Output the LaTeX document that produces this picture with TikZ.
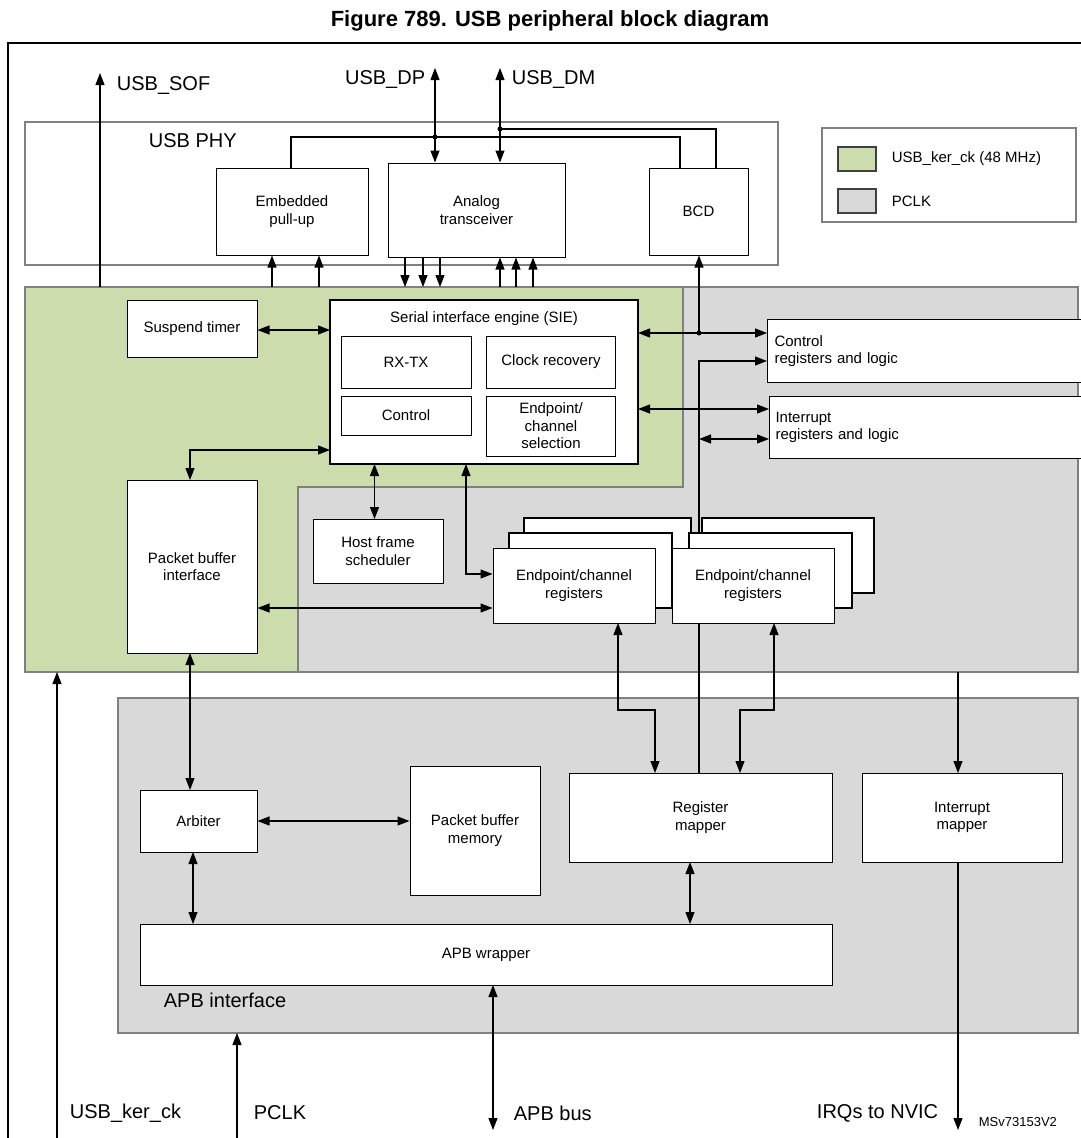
\documentclass[tikz,border=0pt]{standalone}
\usepackage{fontspec}
\setmainfont{Liberation Sans}
\usetikzlibrary{arrows.meta}
\definecolor{kgreen}{RGB}{204,220,172}
\definecolor{pgray}{RGB}{217,217,217}
\begin{document}
\begin{tikzpicture}[x=1pt,y=-1pt,
  ar/.style={-{Triangle[length=12pt,width=9pt]}},
  dar/.style={{Triangle[length=12pt,width=9pt]}-{Triangle[length=12pt,width=9pt]}},
  box/.style={draw,fill=white,line width=1pt},
  bt/.style={font=\fontsize{15}{17.5}\selectfont,align=center},
  big/.style={font=\fontsize{20}{22}\selectfont}]
\useasboundingbox (0,0) rectangle (1081,1138);
\tikzset{every path/.append style={line width=1.1pt}}
% title and frame
\node[font=\bfseries\fontsize{22}{24}\selectfont] (title) at (550,21) {Figure 789. USB peripheral block diagram};
\draw[line width=1.5pt] (1081,43) -- (8,43) -- (8,1138);
% regions
\fill[kgreen,draw=gray] (25,287) -- (683,287) -- (683,487) -- (298,487) -- (298,672) -- (25,672) -- cycle;
\fill[pgray,draw=gray] (683,287) -- (1078,287) -- (1078,672) -- (298,672) -- (298,487) -- (683,487) -- cycle;
\fill[pgray,draw=gray] (118,698) rectangle (1078,1033);
\node[big,anchor=west] (apbi) at (160,1000) {APB interface};
% PHY
\draw[gray,fill=white] (25,122) rectangle (778,265);
\node[big,anchor=west] (phy) at (145,141) {USB PHY};
\coordinate (dpj) at (435,137);
\coordinate (dmj) at (500,129);
\draw (291,168) -- (291,137) -- (680,137) -- (680,168);
\draw (dmj) -- (716,129) -- (716,168);
\node[box,minimum width=152,minimum height=87,bt] (pu) at (292,211.5) {Embedded\\pull-up};
\node[box,minimum width=177,minimum height=94,bt] (at) at (476.5,210) {Analog\\transceiver};
\node[box,minimum width=99,minimum height=87,bt] (bcd) at (698.5,211.5) {BCD};
\fill (dpj) circle (2.5);
\fill (dmj) circle (2.5);
\coordinate (dpt) at (435,68);
\coordinate (dmt) at (500,68);
\draw[dar] (dpt) -- (at.north -| dpt);
\draw[dar] (dmt) -- (at.north -| dmt);
\node[big,anchor=east] (ldp) at (429,80) {USB\_DP};
\node[big,anchor=west] (ldm) at (508,80) {USB\_DM};
\coordinate (soft) at (100,73);
\draw[ar] (100,287) -- (soft);
\node[big,anchor=west] (lsof) at (113,86) {USB\_SOF};
\foreach \x in {272,319} \draw[ar] (\x,287) -- (pu.south -| \x,0);
\foreach \x in {405,423,440} \draw[ar] (at.south -| \x,0) -- (\x,287);
\foreach \x in {500,516,533} \draw[ar] (\x,287) -- (at.south -| \x,0);
% legend
\draw[gray,fill=white] (822,128) rectangle (1076,222);
\draw[fill=kgreen,draw=darkgray] (838,147) rectangle (876,171);
\draw[fill=pgray,draw=darkgray] (838,189) rectangle (876,213);
\node[bt,anchor=west] (lg1) at (888,159) {USB\_ker\_ck (48 MHz)};
\node[bt,anchor=west] (lg2) at (888,201) {PCLK};
% SIE
\node[box,minimum width=130,minimum height=57,bt] (st) at (192,328.5) {Suspend timer};
\draw[fill=white,line width=2pt] (330,300) rectangle (638,464);
\node[bt] (siet) at (484,319) {Serial interface engine (SIE)};
\node[box,minimum width=130,minimum height=52,bt] (rx) at (406,362) {RX-TX};
\node[box,minimum width=129,minimum height=52,bt] (cr) at (551,362) {Clock recovery};
\node[box,minimum width=130,minimum height=39,bt] (ctl) at (406,415.5) {Control};
\node[box,minimum width=129,minimum height=60,bt,inner sep=1pt] (eps) at (551,426) {Endpoint/\\channel\\selection};
\draw[dar] (st.east |- 0,330) -- (330,330);
% right registers
\node[box,minimum width=314,minimum height=63,bt,anchor=north west,text width=300,align=left] (creg) at (767,319) {Control\\registers and logic};
\node[box,minimum width=312,minimum height=62,bt,anchor=north west,text width=300,align=left] (ireg) at (769,396) {Interrupt\\registers and logic};
\coordinate (jc) at (699,333);
\draw[dar] (638,333) -- (767,333);
\fill (jc) circle (2.5);
\draw[ar] (jc) -- (bcd.south -| jc);
\draw[dar] (638,409) -- (769,409);
\draw[dar] (699,439) -- (769,439);
\draw[ar] (699,773) -- (699,361) -- (767,361);
% endpoint stacks
\draw[fill=white] (524,518) rectangle (691,593);
\draw[fill=white] (509,533) rectangle (672,608);
\draw[fill=white] (702,518) rectangle (874,593);
\draw[fill=white] (689,533) rectangle (852,608);
\node[box,minimum width=162,minimum height=75,bt] (ep1) at (574,585.5) {Endpoint/channel\\registers};
\node[box,minimum width=162,minimum height=75,bt] (ep2) at (753,585.5) {Endpoint/channel\\registers};
% host frame scheduler
\node[box,minimum width=130,minimum height=64,bt,inner sep=1pt] (hfs) at (378,551) {Host frame\\scheduler};
\draw[dar] (374.5,464) -- (374.5,519);
\draw[dar] (466,464) -- (466,574) -- (ep1.west |- 0,574);
% packet buffer interface
\node[box,minimum width=130,minimum height=173,bt] (pbi) at (192,566.5) {Packet buffer\\interface};
\draw[dar] (190,480) -- (190,450) -- (330,450);
\draw[dar] (pbi.east |- 0,608) -- (ep1.west |- 0,608);
% APB
\node[box,minimum width=117,minimum height=62,bt] (arb) at (198.5,821) {Arbiter};
\node[box,minimum width=130,minimum height=129,bt] (pbm) at (475,830.5) {Packet buffer\\memory};
\node[box,minimum width=263,minimum height=89,bt] (rm) at (700.5,817.5) {Register\\mapper};
\node[box,minimum width=200,minimum height=89,bt] (im) at (962,817.5) {Interrupt\\mapper};
\node[box,minimum width=692,minimum height=61,bt] (apb) at (486,954.5) {APB wrapper};
\draw[dar] (arb.east) -- (pbm.west |- arb.east);
\draw[dar] (190,653) -- (190,790);
\draw[dar] (193,852) -- (193,924);
\draw[dar] (690,862) -- (690,924);
\draw[dar] (618,623) -- (618,710) -- (655,710) -- (655,773);
\draw[dar] (774,623) -- (774,710) -- (740,710) -- (740,773);
\draw[ar] (958,672) -- (958,773);
\coordinate (irq) at (958,1130);
\draw[ar] (958,862) -- (irq);
\coordinate (apbb) at (493,1130);
\draw[dar] (493,985) -- (apbb);
\coordinate (kb) at (57,1138);
\draw[ar] (kb) -- (57,672);
\coordinate (pb) at (237,1138);
\draw[ar] (pb) -- (237,1033);
\node[big,anchor=west] (lker) at (66,1113) {USB\_ker\_ck};
\node[big,anchor=west] (lpclk) at (250,1113) {PCLK};
\node[big,anchor=west] (lapb) at (510,1113) {APB bus};
\node[big,anchor=east] (lirq) at (942,1113) {IRQs to NVIC};
\node[font=\fontsize{13}{15}\selectfont,anchor=west] (ms) at (975,1122) {MSv73153V2};
\end{tikzpicture}
\end{document}
